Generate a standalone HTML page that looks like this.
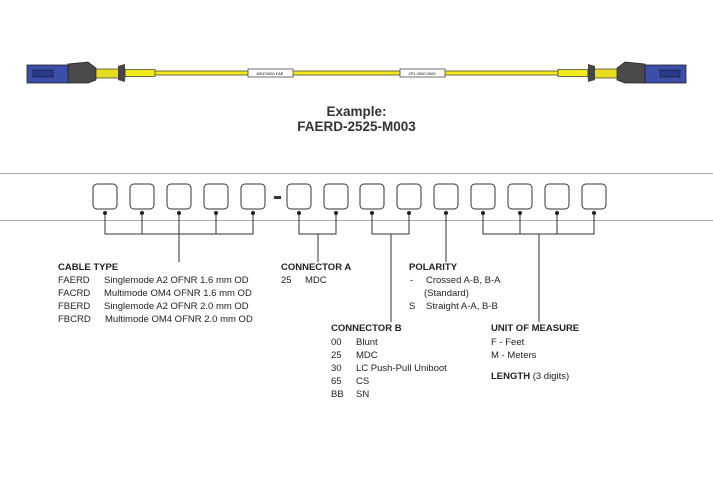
<!DOCTYPE html>
<html><head><meta charset="utf-8"><style>
body{margin:0;background:#fff;width:713px;height:492px;overflow:hidden;position:relative;font-family:"Liberation Sans",Arial,sans-serif;color:#222}
.t{position:absolute;font-size:9.5px;white-space:nowrap;line-height:11px}
.b{font-weight:bold}
</style></head><body>
<svg width="713" height="492" style="position:absolute;left:0;top:0">
<!-- cable -->
<rect x="125" y="71" width="463" height="4" fill="#f2ea1c" stroke="#333" stroke-width="0.7"/>
<rect x="125" y="69.5" width="30" height="7" fill="#f2ea1c" stroke="#333" stroke-width="0.7"/>
<rect x="558" y="69.5" width="30" height="7" fill="#f2ea1c" stroke="#333" stroke-width="0.7"/>
<rect x="248" y="69" width="45" height="8" fill="#fff" stroke="#333" stroke-width="0.7"/>
<rect x="400" y="69" width="45" height="8" fill="#fff" stroke="#333" stroke-width="0.7"/>
<text x="270" y="75" font-size="4" text-anchor="middle" font-family="Liberation Sans">MDC0000-FAE</text>
<text x="422" y="75" font-size="4" text-anchor="middle" font-family="Liberation Sans">2P1 0000 0000</text>
<!-- left connector -->
<rect x="95" y="69" width="30" height="9" fill="#e6dc20" stroke="#333" stroke-width="0.7"/>
<path d="M68 64 L88 62 L96 68 L96 80 L88 83 L68 83 Z" fill="#4a4a4a" stroke="#222" stroke-width="0.7"/>
<path d="M118 66 L125 64 L125 82 L118 80Z" fill="#444"/>
<rect x="27" y="65" width="41" height="18" fill="#3b4ea8" stroke="#222" stroke-width="0.8"/>
<rect x="33" y="70" width="20" height="7" fill="#2a3a8a" stroke="#111" stroke-width="0.5"/>
<!-- right connector -->
<rect x="588" y="69" width="30" height="9" fill="#e6dc20" stroke="#333" stroke-width="0.7"/>
<path d="M645 64 L625 62 L617 68 L617 80 L625 83 L645 83 Z" fill="#4a4a4a" stroke="#222" stroke-width="0.7"/>
<path d="M595 66 L588 64 L588 82 L595 80Z" fill="#444"/>
<rect x="645" y="65" width="41" height="18" fill="#3b4ea8" stroke="#222" stroke-width="0.8"/>
<rect x="660" y="70" width="20" height="7" fill="#2a3a8a" stroke="#111" stroke-width="0.5"/>
<!-- horizontal rules -->
<line x1="0" y1="173.5" x2="713" y2="173.5" stroke="#aaa" stroke-width="1"/>
<line x1="0" y1="220.5" x2="713" y2="220.5" stroke="#aaa" stroke-width="1"/>
<g fill="#fff" stroke="#333" stroke-width="1">
<rect x="93" y="184" width="24" height="25" rx="4"/>
<rect x="130" y="184" width="24" height="25" rx="4"/>
<rect x="167" y="184" width="24" height="25" rx="4"/>
<rect x="204" y="184" width="24" height="25" rx="4"/>
<rect x="241" y="184" width="24" height="25" rx="4"/>
<rect x="287" y="184" width="24" height="25" rx="4"/>
<rect x="324" y="184" width="24" height="25" rx="4"/>
<rect x="360" y="184" width="24" height="25" rx="4"/>
<rect x="397" y="184" width="24" height="25" rx="4"/>
<rect x="434" y="184" width="24" height="25" rx="4"/>
<rect x="471" y="184" width="24" height="25" rx="4"/>
<rect x="508" y="184" width="24" height="25" rx="4"/>
<rect x="545" y="184" width="24" height="25" rx="4"/>
<rect x="582" y="184" width="24" height="25" rx="4"/>
</g>
<rect x="274" y="196" width="7" height="3" fill="#333"/>
<g stroke="#333" stroke-width="1" fill="none">
<path d="M105 213V234H253V213 M142 213V234 M179 213V262 M216 213V234"/>
<path d="M299 213V234H336V213 M318 234V262"/>
<path d="M372 213V234H409V213 M391 234V322"/>
<path d="M446 213V262"/>
<path d="M483 213V234H594V213 M520 213V234 M557 213V234 M539 234V322"/>
</g>
<g fill="#222">
<circle cx="105" cy="213" r="2"/><circle cx="142" cy="213" r="2"/><circle cx="179" cy="213" r="2"/><circle cx="216" cy="213" r="2"/><circle cx="253" cy="213" r="2"/>
<circle cx="299" cy="213" r="2"/><circle cx="336" cy="213" r="2"/><circle cx="372" cy="213" r="2"/><circle cx="409" cy="213" r="2"/><circle cx="446" cy="213" r="2"/>
<circle cx="483" cy="213" r="2"/><circle cx="520" cy="213" r="2"/><circle cx="557" cy="213" r="2"/><circle cx="594" cy="213" r="2"/>
</g>
</svg>
<div class="t b" style="left:0;width:713px;text-align:center;top:104px;font-size:13.5px;line-height:15px;color:#333">Example:<br>FAERD-2525-M003</div>

<div class="t b" style="left:58px;top:262px">CABLE TYPE</div>
<div class="t" style="left:58px;top:275px">FAERD</div><div class="t" style="left:104px;top:275px">Singlemode A2 OFNR 1.6 mm OD</div>
<div class="t" style="left:58px;top:288px">FACRD</div><div class="t" style="left:104px;top:288px">Multimode OM4 OFNR 1.6 mm OD</div>
<div class="t" style="left:58px;top:301px">FBERD</div><div class="t" style="left:104px;top:301px">Singlemode A2 OFNR 2.0 mm OD</div>
<div class="t" style="left:58px;top:314px">FBCRD</div><div class="t" style="left:105px;top:314px">Multimode OM4 OFNR 2.0 mm OD</div>

<div class="t b" style="left:281px;top:262px">CONNECTOR A</div>
<div class="t" style="left:281px;top:275px">25</div><div class="t" style="left:305px;top:275px">MDC</div>

<div class="t b" style="left:409px;top:262px">POLARITY</div>
<div class="t" style="left:410px;top:275px">-</div><div class="t" style="left:426px;top:275px">Crossed A-B, B-A</div>
<div class="t" style="left:424px;top:288px">(Standard)</div>
<div class="t" style="left:409px;top:301px">S</div><div class="t" style="left:426px;top:301px">Straight A-A, B-B</div>

<div class="t b" style="left:331px;top:323px">CONNECTOR B</div>
<div class="t" style="left:331px;top:337px">00</div><div class="t" style="left:356px;top:337px">Blunt</div>
<div class="t" style="left:331px;top:350px">25</div><div class="t" style="left:356px;top:350px">MDC</div>
<div class="t" style="left:331px;top:363px">30</div><div class="t" style="left:356px;top:363px">LC Push-Pull Uniboot</div>
<div class="t" style="left:331px;top:376px">65</div><div class="t" style="left:356px;top:376px">CS</div>
<div class="t" style="left:331px;top:389px">BB</div><div class="t" style="left:356px;top:389px">SN</div>

<div class="t b" style="left:491px;top:323px">UNIT OF MEASURE</div>
<div class="t" style="left:491px;top:337px">F - Feet</div>
<div class="t" style="left:491px;top:350px">M - Meters</div>
<div class="t" style="left:491px;top:371px"><b>LENGTH</b> (3 digits)</div>
</body></html>
